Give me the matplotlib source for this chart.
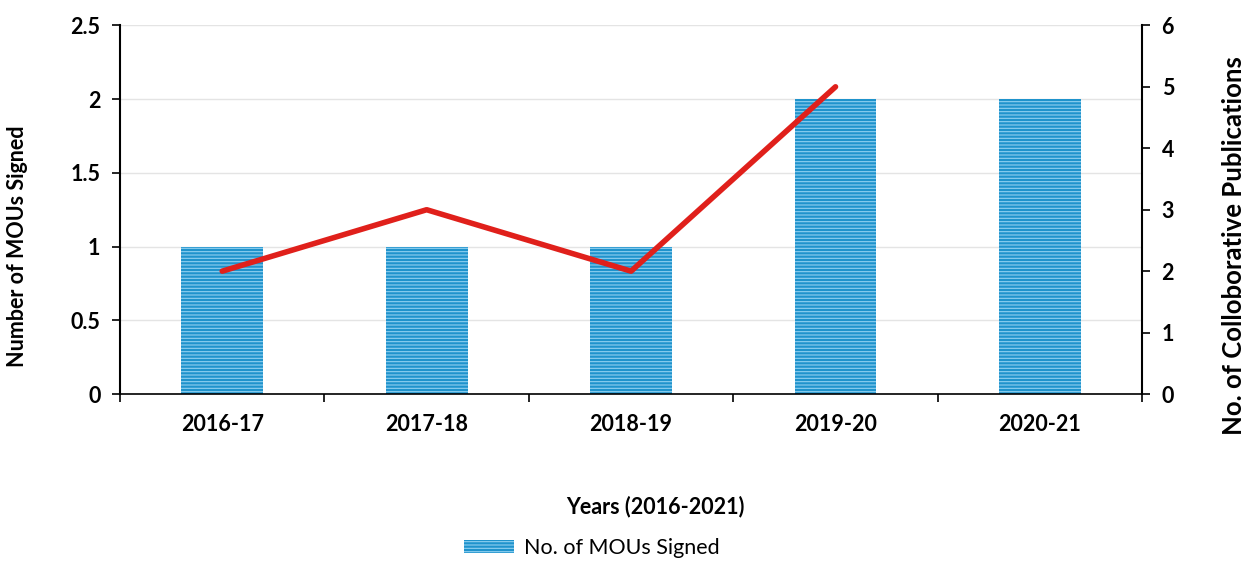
import matplotlib
matplotlib.use("Agg")
import matplotlib.pyplot as plt
import numpy as np

categories = ["2016-17", "2017-18", "2018-19", "2019-20", "2020-21"]
mous = [1, 1, 1, 2, 2]
pubs = [2, 3, 2, 5]
left_ticks = [0, 0.5, 1, 1.5, 2, 2.5]
left_labels = ["0", "0.5", "1", "1.5", "2", "2.5"]
right_ticks = [0, 1, 2, 3, 4, 5, 6]

plt.rcParams['font.family'] = ['Lato', 'DejaVu Sans']
plt.rcParams['hatch.linewidth'] = 0.8

FS = 15.5
W, H = 1245, 563
fig = plt.figure(figsize=(12.45, 5.63), dpi=100)
ax = fig.add_axes([0.0964, 0.300, 0.821, 0.655])
x = np.arange(len(categories))

ax.bar(x, mous, width=0.4, color="#1f93cc", edgecolor="#8fd0f0", hatch="-----",
       linewidth=0, label="No. of MOUs Signed", zorder=2)
ax.set_xlim(-0.5, len(categories) - 0.5)
ax.set_ylim(0, 2.5)
ax.set_yticks(left_ticks)
ax.set_yticklabels(left_labels, fontsize=FS, fontweight='bold')
ax.set_xticks(x)
ax.set_xticklabels(categories, fontsize=FS, fontweight='bold')
ax.tick_params(axis='x', length=0, pad=14)
ax.set_xticks(np.arange(-0.5, len(categories) + 0.5, 1), minor=True)
ax.tick_params(axis='x', which='minor', length=6, direction='out', width=1.2)
ax.tick_params(axis='y', length=6, width=1.2, pad=8)
ax.grid(axis='y', color='#e4e4e4', linewidth=1, zorder=0)
ax.set_axisbelow(True)
for s in ['top', 'right']:
    ax.spines[s].set_visible(False)
ax.spines['left'].set_linewidth(1.5)
ax.spines['bottom'].set_linewidth(1.2)

ax2 = ax.twinx()
ax2.plot(x[:len(pubs)], pubs, color="#e0201b", linewidth=4, solid_capstyle='round', zorder=3)
ax2.set_ylim(0, 6)
ax2.set_yticks(right_ticks)
ax2.set_yticklabels([str(t) for t in right_ticks], fontsize=FS, fontweight='bold')
ax2.tick_params(axis='y', length=6, width=1.2, pad=8)
for s in ['top', 'left', 'bottom']:
    ax2.spines[s].set_visible(False)
ax2.spines['right'].set_linewidth(1.5)

fig.text(18 / W, 1 - 246 / H, "Number of MOUs Signed", rotation=90, ha='center', va='center',
         fontsize=FS, fontweight='bold')
fig.text(1234 / W, 1 - 246 / H, "No. of Colloborative Publications", rotation=90, ha='center',
         va='center', fontsize=18.5, fontweight='bold')
fig.text(655 / W, 1 - 507 / H, "Years (2016-2021)", ha='center', va='center',
         fontsize=FS, fontweight='bold')

h, l = ax.get_legend_handles_labels()
fig.legend(h, l, loc='center', bbox_to_anchor=(592 / W, 1 - 548 / H), frameon=False,
           fontsize=FS, handlelength=2.3, handleheight=0.55, handletextpad=0.5,
           borderaxespad=0, borderpad=0)

fig.savefig("out.png", dpi=100, facecolor='white')
